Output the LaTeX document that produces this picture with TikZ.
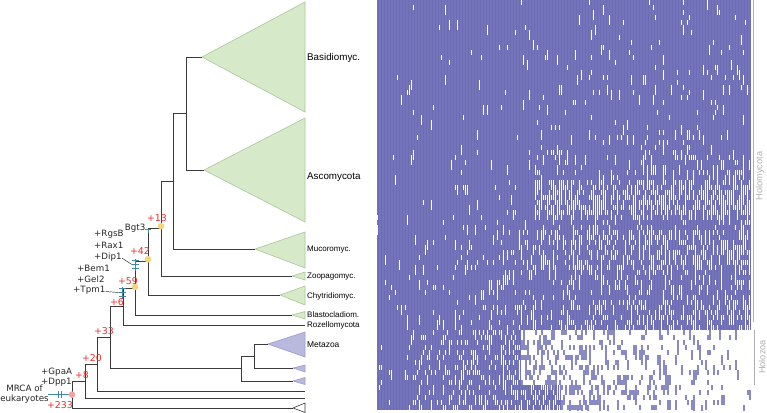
\documentclass[tikz,border=0pt]{standalone}
\usepackage{fontspec}
\setmainfont{Liberation Sans}
\newfontfamily\dejavu{DejaVu Sans}
\usetikzlibrary{calc}
\definecolor{branchgray}{HTML}{3A3A3A}
\definecolor{fungifill}{HTML}{D6E9C8}
\definecolor{fungiline}{HTML}{A9C79B}
\definecolor{metafill}{HTML}{B9B9DE}
\definecolor{metaline}{HTML}{9C9CCB}
\definecolor{gainred}{HTML}{E8302C}
\definecolor{gainteal}{HTML}{3F8AA3}
\definecolor{nodeyellow}{HTML}{F7D27A}
\definecolor{nodepink}{HTML}{F3A3A3}
\definecolor{hmblue}{HTML}{7474BA}
\definecolor{hmline}{HTML}{6C6CB4}
\definecolor{sidegray}{HTML}{AFAFAF}

\begin{document}
\begin{tikzpicture}[x=1pt,y=-1pt,
  branch/.style={draw=branchgray,line width=0.9pt},
  fungi/.style={draw=fungiline,fill=fungifill,line width=0.6pt},
  metazoan/.style={draw=metaline,fill=metafill,line width=0.6pt},
  openclade/.style={draw=branchgray,fill=white,line width=0.6pt},
  clade/.style={anchor=west,font=\fontsize{8}{9}\selectfont,inner sep=0pt},
  bigclade/.style={anchor=west,font=\fontsize{9.8}{11}\selectfont,inner sep=0pt},
  gain/.style={text=gainred,font=\dejavu\fontsize{9.4}{10}\selectfont,inner sep=0pt},
  gene/.style={font=\dejavu\fontsize{8.7}{10}\selectfont,inner sep=0pt,align=center,text=black!85},
  gainmark/.style={draw=gainteal,line width=0.9pt},
  event/.style={circle,inner sep=0pt,minimum size=6.6pt,fill=nodeyellow},
  leader/.style={draw=black!80,line width=0.5pt},
  side/.style={draw=sidegray,line width=0.6pt},
  sidelabel/.style={text=sidegray,rotate=90,font=\fontsize{9.2}{10}\selectfont,inner sep=0pt}
]
  \useasboundingbox (0,0) rectangle (767,412);

  % presence / absence matrix
  \begin{scope}
    \clip (377,0) rectangle (751,410);
    \fill[hmblue] (377,0) rectangle (751,410);
    \draw[hmline,line width=0.2pt] (377,0) grid[xstep=3,ystep=5] (751,410);
    \pgfmathsetseed{7}
    % Holomycota rows
    \foreach \ra/\rb/\pa/\pb/\pc/\pd in {0/21/0.005/0.05/0/1, 22/29/0.01/0.07/0/1,
        30/35/0.015/0.08/0.1/0.7, 36/42/0.02/0.08/0.45/0.42, 43/45/0.02/0.15/0/1,
        46/53/0.03/0.3/0.1/0.4, 54/59/0.03/0.25/0/1, 60/65/0.05/0.3/0/1}{
      \foreach \r in {\ra,...,\rb}{
        \foreach \c in {0,...,186}{
          \pgfmathtruncatemacro\hit{rnd<(\pa+\pb*\c/186+\pc*(\c/186>\pd))}
          \ifnum\hit=1
            \pgfmathtruncatemacro\hh{1+1.6*rnd}
            \fill[white] (377+2*\c,5*\r) rectangle ++(1.3,5*\hh);
          \fi
        }
      }
    }
    % Holozoa rows
    \foreach \ra/\rb/\cx/\pl/\pr in {66/76/72/0.4/0.3, 77/81/92/0.45/0.35}{
      \fill[white] (377+2*\cx,5*\ra) rectangle (751,5*\rb+5);
      \foreach \r in {\ra,...,\rb}{
        \foreach \c in {0,...,186}{
          \ifnum\c<\cx
            \pgfmathtruncatemacro\hit{rnd<(0.05+\pl*\c/\cx)}
            \ifnum\hit=1 \fill[white] (377+2*\c,5*\r) rectangle ++(1.3,5); \fi
          \else
            \pgfmathtruncatemacro\hit{rnd<(0.04+\pr*(186-\c)/(186-\cx))}
            \ifnum\hit=1
              \pgfmathtruncatemacro\hh{1+1.6*rnd}
              \fill[hmblue!85] (377+2*\c,5*\r) rectangle ++(1.5,5*\hh);
            \fi
          \fi
        }
      }
    }
  \end{scope}
  \draw[side] (753,0) -- (753,322);
  \draw[side] (754.5,330) -- (754.5,385);
  \node[sidelabel] (holom) at (760,176) {Holomycota};
  \node[sidelabel] (holoz) at (762,357) {Holozoa};

  % tips
  \coordinate (basidA) at (202,57);
  \coordinate (ascoA) at (204,170);
  \coordinate (mucoA) at (255,249);
  \coordinate (zoopA) at (292,276);
  \coordinate (chytA) at (280,295);
  \coordinate (blastA) at (292,315);
  \coordinate (rozE) at (305,325);
  \coordinate (metaA) at (268,344);
  \coordinate (holoA) at (293,368);
  \coordinate (holoB) at (293,381);
  \coordinate (tipC) at (305,391);
  \coordinate (tipD) at (305,398);
  \coordinate (outA) at (293,408);
  % inner nodes
  \coordinate (nba) at (186,113.5);
  \coordinate (ndik) at (173,181.3);
  \coordinate (n13) at (161,228.6);
  \coordinate (n42) at (148,261.8);
  \coordinate (n59) at (135,288.4);
  \coordinate (n6) at (123,306.7);
  \coordinate (ha) at (254,356);
  \coordinate (hb) at (241,368.5);
  \coordinate (n33) at (110,337.6);
  \coordinate (n20) at (97,364.3);
  \coordinate (n8) at (85,381.2);
  \coordinate (root) at (72,394.6);
  \coordinate (stem) at (48,394.6);

  \draw[fungi] (basidA) -- (305,2) -- (305,112) -- cycle;
  \draw[fungi] (ascoA) -- (305,118) -- (305,222) -- cycle;
  \draw[fungi] (mucoA) -- (305,232) -- (305,268) -- cycle;
  \draw[fungi] (zoopA) -- (305,272) -- (305,280) -- cycle;
  \draw[fungi] (chytA) -- (305,286) -- (305,305) -- cycle;
  \draw[fungi] (blastA) -- (305,311.5) -- (305,319) -- cycle;
  \draw[metazoan] (metaA) -- (305,332) -- (305,357) -- cycle;
  \draw[metazoan] (holoA) -- (305,365) -- (305,372) -- cycle;
  \draw[metazoan] (holoB) -- (305,377.5) -- (305,384.5) -- cycle;
  \draw[openclade] (outA) -- (305,403) -- (305,412.5) -- cycle;

  \node[bigclade] (basid) at (307,58) {Basidiomyc.};
  \node[bigclade] (asco) at (307,177) {Ascomycota};
  \node[clade] (muco) at (307,250) {Mucoromyc.};
  \node[clade] (zoop) at (307,276.5) {Zoopagomyc.};
  \node[clade] (chyt) at (307,296) {Chytridiomyc.};
  \node[clade] (blast) at (307,315) {Blastocladiom.};
  \node[clade] (rozel) at (307,325) {Rozellomycota};
  \node[clade,font=\fontsize{8.4}{9}\selectfont] (metaz) at (307,344.5) {Metazoa};

  \draw[branch] (root) |- (n8);
  \draw[branch] (root) |- (outA);
  \draw[branch] (n8) |- (n20);
  \draw[branch] (n8) |- (tipD);
  \draw[branch] (n20) |- (n33);
  \draw[branch] (n20) |- (tipC);
  \draw[branch] (n33) |- (n6);
  \draw[branch] (n33) |- (hb);
  \draw[branch] (hb) |- (ha);
  \draw[branch] (hb) |- (holoB);
  \draw[branch] (ha) |- (metaA);
  \draw[branch] (ha) |- (holoA);
  \draw[branch] (n6) |- (n59);
  \draw[branch] (n6) |- (rozE);
  \draw[branch] (n59) |- (n42);
  \draw[branch] (n59) |- (blastA);
  \draw[branch] (n42) |- (n13);
  \draw[branch] (n42) |- (chytA);
  \draw[branch] (n13) |- (ndik);
  \draw[branch] (n13) |- (zoopA);
  \draw[branch] (ndik) |- (nba);
  \draw[branch] (ndik) |- (mucoA);
  \draw[branch] (nba) |- (basidA);
  \draw[branch] (nba) |- (ascoA);

  % gene gains
  \coordinate (tickA) at (135.8,264.5);
  \coordinate (tickB) at (122.7,292.5);
  \coordinate (tickC) at (148,229.3);
  \draw[gainmark] (stem) -- (root);
  \draw[gainmark,line width=1.2pt] (58.3,391) -- (58.3,397.7) (61.7,391) -- (61.7,397.7);
  \draw[gainmark] ([yshift=6pt]tickA) -- ([yshift=-6pt]tickA);
  \foreach \d in {-3.6,0,3.6}
    \draw[gainmark] ([shift={(-3.5,\d)}]tickA) -- ([shift={(3.5,\d)}]tickA);
  \draw[gainmark] ([yshift=6pt]tickB) -- ([yshift=-6pt]tickB);
  \foreach \d in {-4,0,4}
    \draw[gainmark] ([shift={(-3.5,\d)}]tickB) -- ([shift={(3.5,\d)}]tickB);
  \draw[gainmark] ([xshift=-2.6pt]tickC) -- ([xshift=2.6pt]tickC);
  \draw[gainmark] (tickC) -- ([yshift=-4pt]tickC);

  \node[event] (e13) at ([yshift=2.5pt]n13) {};
  \node[event] (e42) at ([yshift=2.5pt]n42) {};
  \node[event] (e59) at ([yshift=1.5pt]n59) {};
  \node[event,fill=nodepink] (e233) at (root) {};

  \node[gene,anchor=west] (rgsb) at (94,234) {+RgsB};
  \node[gene,anchor=west] (rax) at (94,245.5) {+Rax1};
  \node[gene,anchor=west] (dip) at (94,257) {+Dip1};
  \node[gene,anchor=west] (bem) at (77,268.5) {+Bem1};
  \node[gene,anchor=west] (gel) at (77,279.5) {+Gel2};
  \node[gene,anchor=west] (tpm) at (73,290.5) {+Tpm1};
  \node[gene,anchor=west] (gpa) at (41,372) {+GpaA};
  \node[gene,anchor=west] (dpp) at (41,382) {+Dpp1};
  \node[gene,anchor=east] (bgt) at (145.5,228.5) {Bgt3};
  \node[gene] (mrca) at (24.5,394) {MRCA of\\eukaryotes};
  \draw[leader] ([yshift=-1pt]dip.east) -- ([xshift=-4pt]tickA);
  \draw[leader] ([yshift=-1pt]tpm.east) -- ([xshift=-4pt]tickB);

  \node[gain] (g13) at (157,218) {+13};
  \node[gain] (g42) at (140,251) {+42};
  \node[gain] (g59) at (128,281) {+59};
  \node[gain] (g6) at (117,302) {+6};
  \node[gain] (g33) at (104,331) {+33};
  \node[gain] (g20) at (92,358) {+20};
  \node[gain] (g8) at (82,375) {+8};
  \node[gain] (g233) at (60,405) {+233};
\end{tikzpicture}
\end{document}
